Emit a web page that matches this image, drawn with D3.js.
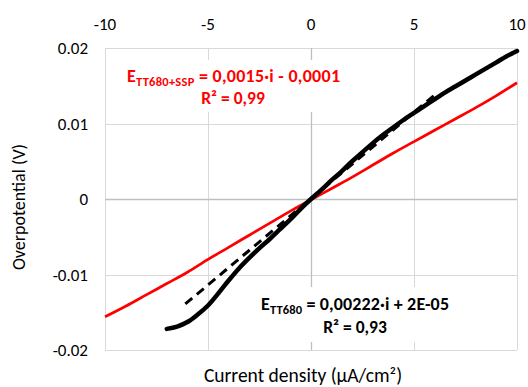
<!DOCTYPE html>
<html>
<head>
<meta charset="utf-8">
<script src="https://cdn.jsdelivr.net/npm/d3@7"></script>
<style>
  body { margin: 0; background: #fff; }
  svg { display: block; font-family: Carlito, Lato, 'Open Sans', sans-serif; }
</style>
</head>
<body>
<svg id="chart" width="528" height="387"></svg>
<script>
// Ticks
const xTicks = [-10, -5, 0, 5, 10];
const yTicks = [-0.02, -0.01, 0, 0.01, 0.02];
const yTickLabels = ['-0.02', '-0.01', '0', '0.01', '0.02'];

// TT680 (black)
const blackX = [-7.0, -6.5, -6.0, -5.5, -5.0, -4.5, -4.0, -3.5, -3.0, -2.5, -2.0, -1.5, -1.0, -0.5, 0,
  0.5, 1, 1.5, 2, 2.5, 3, 3.5, 4, 4.5, 5, 5.5, 6, 6.5, 7, 7.5, 8, 8.5, 9, 9.5, 10];
const blackY = [-0.0172, -0.0169, -0.0163, -0.0153, -0.0141, -0.0125, -0.0108, -0.0092, -0.0078, -0.0065,
  -0.0053, -0.0040, -0.0027, -0.0013, 0, 0.0012, 0.0025, 0.0037, 0.0050, 0.0062, 0.0074, 0.0085, 0.0095,
  0.0105, 0.0114, 0.0123, 0.0132, 0.0141, 0.0149, 0.0157, 0.0165, 0.0173, 0.0181, 0.0189, 0.0196];

// TT680+SSP (red)
const redX = [-10, -9, -8, -7, -6, -5, -4, -3, -2, -1, 0, 1, 2, 3, 4, 5, 6, 7, 8, 9, 10];
const redY = [-0.0156, -0.0142, -0.0127, -0.0112, -0.0097, -0.0080, -0.0064, -0.0048, -0.0032, -0.0016, -0.0001,
  0.0014, 0.0029, 0.0045, 0.0061, 0.0076, 0.0091, 0.0106, 0.0121, 0.0137, 0.0154];

// linear trendline of TT680 (dashed)
const trendX = [-6.1, 6.1];
const trendY = [-0.0139, 0.0140];

const svg = d3.select('#chart');

// Scales
const x = d3.scaleLinear([-10, 10], [105, 517]);
const y = d3.scaleLinear([-0.02, 0.02], [350, 48]);

// Gridlines
svg.append('g')
  .selectAll('line')
  .data(xTicks.filter((d) => d !== 0))
  .join('line')
  .attr('x1', (d) => x(d) + 0.5).attr('x2', (d) => x(d) + 0.5)
  .attr('y1', y(0.02)).attr('y2', y(-0.02))
  .attr('stroke', '#d9d9d9').attr('stroke-width', 1);

svg.append('g')
  .selectAll('line')
  .data(yTicks.filter((d) => d !== 0))
  .join('line')
  .attr('y1', (d) => Math.round(y(d)) + 0.5).attr('y2', (d) => Math.round(y(d)) + 0.5)
  .attr('x1', x(-10)).attr('x2', x(10))
  .attr('stroke', '#d9d9d9').attr('stroke-width', 1);

// Axis lines through zero
svg.append('line')
  .attr('x1', x(0) + 0.5).attr('x2', x(0) + 0.5)
  .attr('y1', y(0.02)).attr('y2', y(-0.02))
  .attr('stroke', '#bfbfbf').attr('stroke-width', 1.3);
svg.append('line')
  .attr('y1', Math.round(y(0)) + 0.5).attr('y2', Math.round(y(0)) + 0.5)
  .attr('x1', x(-10)).attr('x2', x(10))
  .attr('stroke', '#bfbfbf').attr('stroke-width', 1.3);

// Tick labels
svg.append('g')
  .selectAll('text')
  .data(xTicks)
  .join('text')
  .attr('x', (d) => x(d))
  .attr('y', 30)
  .attr('text-anchor', 'middle')
  .attr('font-size', 17)
  .attr('fill', '#000')
  .text((d) => d);

svg.append('g')
  .selectAll('text')
  .data(yTicks)
  .join('text')
  .attr('x', 88)
  .attr('y', (d) => y(d) + 6)
  .attr('text-anchor', 'end')
  .attr('font-size', 17)
  .attr('fill', '#000')
  .text((d, i) => yTickLabels[i]);

// Series
const line = d3.line().x((d) => x(d[0])).y((d) => y(d[1])).curve(d3.curveCatmullRom);

svg.append('path')
  .datum(redX.map((d, i) => [d, redY[i]]))
  .attr('d', line)
  .attr('fill', 'none')
  .attr('stroke', '#ff0000')
  .attr('stroke-width', 2.75);

svg.append('path')
  .datum(blackX.map((d, i) => [d, blackY[i]]))
  .attr('d', line)
  .attr('fill', 'none')
  .attr('stroke', '#000')
  .attr('stroke-width', 4.5)
  .attr('stroke-linecap', 'round');

svg.append('path')
  .datum(trendX.map((d, i) => [d, trendY[i]]))
  .attr('d', d3.line().x((d) => x(d[0])).y((d) => y(d[1])))
  .attr('fill', 'none')
  .attr('stroke', '#000')
  .attr('stroke-width', 3)
  .attr('stroke-dasharray', '9,6');

// Equation labels (white boxes hide gridlines behind them)
svg.append('rect').attr('x', 118).attr('y', 60).attr('width', 232).attr('height', 52).attr('fill', '#fff');
svg.append('rect').attr('x', 255).attr('y', 287).attr('width', 200).attr('height', 55).attr('fill', '#fff');

function equation(x0, y0, width, color, sub, rest) {
  const t = svg.append('text')
    .attr('x', x0).attr('y', y0)
    .attr('fill', color)
    .attr('font-weight', 'bold')
    .attr('font-size', 18)
    .attr('textLength', width)
    .attr('lengthAdjust', 'spacing');
  t.append('tspan').text('E');
  t.append('tspan').attr('font-size', 12.5).attr('dy', 4).text(sub);
  t.append('tspan').attr('dy', -4).text(rest);
}

equation(127, 82, 213, '#ff0000', 'TT680+SSP', ' = 0,0015·i - 0,0001');
svg.append('text')
  .attr('x', 233).attr('y', 104)
  .attr('text-anchor', 'middle')
  .attr('fill', '#ff0000')
  .attr('font-weight', 'bold')
  .attr('font-size', 17.5)
  .text('R² = 0,99');

equation(261, 310, 188, '#000', 'TT680', ' = 0,00222·i + 2E-05');
svg.append('text')
  .attr('x', 355).attr('y', 333)
  .attr('text-anchor', 'middle')
  .attr('fill', '#000')
  .attr('font-weight', 'bold')
  .attr('font-size', 17.5)
  .text('R² = 0,93');

// Axis titles
svg.append('text')
  .attr('x', 303).attr('y', 382)
  .attr('text-anchor', 'middle')
  .attr('font-size', 19.5)
  .text('Current density (µA/cm²)');

svg.append('text')
  .attr('transform', 'translate(25,207) rotate(-90)')
  .attr('text-anchor', 'middle')
  .attr('font-size', 18)
  .text('Overpotential (V)');
</script>
</body>
</html>
